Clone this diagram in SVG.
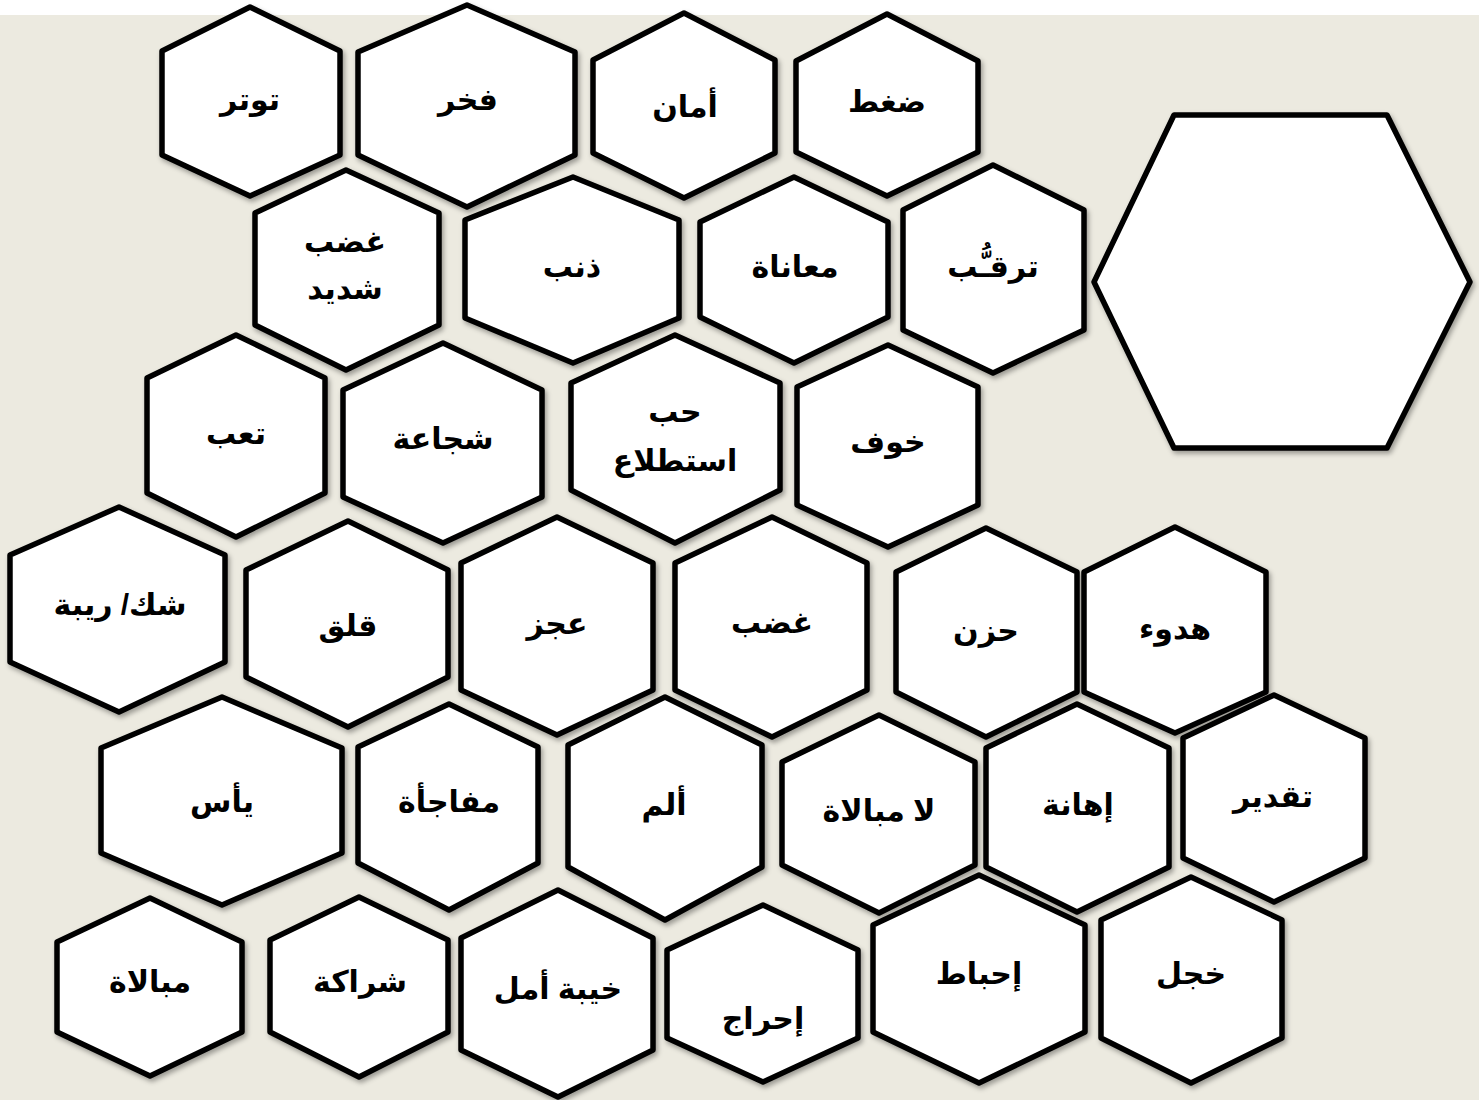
<svg xmlns="http://www.w3.org/2000/svg" width="1479" height="1100" viewBox="0 0 1479 1100">
<defs>
<filter id="sh" x="-10%" y="-10%" width="130%" height="130%">
<feDropShadow dx="2" dy="3" stdDeviation="2.5" flood-color="#000" flood-opacity="0.35"/>
</filter>
<style>
.hx{fill:#fff;stroke:#000;stroke-width:5.5;stroke-linejoin:round;filter:url(#sh)}
.t{font-family:"Liberation Sans","DejaVu Sans",sans-serif;font-weight:bold;font-size:30px;fill:#000;text-anchor:middle}
</style>
</defs>
<rect x="0" y="0" width="1479" height="1100" fill="#fff"/>
<rect x="0" y="15" width="1479" height="1085" fill="#ECEAE0"/>
<g id="connectors"></g>
<g id="n1"><polygon class="hx" points="250,7 340,51 340,155 250,196 162,155 162,51"/><text class="t" x="250" y="110">توتر</text></g>
<g id="n2"><polygon class="hx" points="467,5 575,52 575,155 467,207 358,155 358,52"/><text class="t" x="468" y="110">فخر</text></g>
<g id="n3"><polygon class="hx" points="684,13 775,60 775,153 684,198 593,153 593,60"/><text class="t" x="685" y="117">أمان</text></g>
<g id="n4"><polygon class="hx" points="887,14 978,61 978,152 887,196 796,152 796,61"/><text class="t" x="887" y="112">ضغط</text></g>
<g id="n5"><polygon class="hx" points="1174,115 1387,115 1470,282 1387,448 1174,448 1094,282"/></g>
<g id="n6"><polygon class="hx" points="346,170 439,213 439,325 346,370 255,325 255,213"/><text class="t" x="345" y="252">غضب</text><text class="t" x="345" y="299">شديد</text></g>
<g id="n7"><polygon class="hx" points="573,177 679,220 679,318 573,363 465,318 465,220"/><text class="t" x="572" y="277">ذنب</text></g>
<g id="n8"><polygon class="hx" points="794,177 888,222 888,317 794,363 700,317 700,222"/><text class="t" x="795" y="277">معاناة</text></g>
<g id="n9"><polygon class="hx" points="993,165 1084,210 1084,330 993,373 903,330 903,210"/><text class="t" x="993" y="277">ترقـُّب</text></g>
<g id="n10"><polygon class="hx" points="236,335 325,378 325,493 236,537 147,493 147,378"/><text class="t" x="236" y="444">تعب</text></g>
<g id="n11"><polygon class="hx" points="443,343 542,390 542,497 443,543 343,497 343,390"/><text class="t" x="443" y="449">شجاعة</text></g>
<g id="n12"><polygon class="hx" points="675,335 780,383 780,490 675,543 571,490 571,383"/><text class="t" x="675" y="422">حب</text><text class="t" x="675" y="471">استطلاع</text></g>
<g id="n13"><polygon class="hx" points="888,345 978,387 978,505 888,547 797,505 797,387"/><text class="t" x="888" y="452">خوف</text></g>
<g id="n14"><polygon class="hx" points="119,507 225,555 225,662 119,712 10,662 10,555"/><text class="t" x="120" y="615">شك/ ريبة</text></g>
<g id="n15"><polygon class="hx" points="348,521 448,570 448,677 348,727 246,677 246,570"/><text class="t" x="348" y="636">قلق</text></g>
<g id="n16"><polygon class="hx" points="557,517 653,563 653,690 557,735 461,690 461,563"/><text class="t" x="557" y="634">عجز</text></g>
<g id="n17"><polygon class="hx" points="772,517 867,563 867,690 772,737 675,690 675,563"/><text class="t" x="772" y="633">غضب</text></g>
<g id="n18"><polygon class="hx" points="986,528 1077,572 1077,692 986,737 896,692 896,572"/><text class="t" x="986" y="641">حزن</text></g>
<g id="n19"><polygon class="hx" points="1175,527 1266,572 1266,692 1175,733 1084,692 1084,572"/><text class="t" x="1175" y="639">هدوء</text></g>
<g id="n20"><polygon class="hx" points="222,697 342,748 342,853 222,905 101,853 101,748"/><text class="t" x="222" y="812">يأس</text></g>
<g id="n21"><polygon class="hx" points="449,704 538,747 538,863 449,910 358,863 358,747"/><text class="t" x="449" y="812">مفاجأة</text></g>
<g id="n22"><polygon class="hx" points="665,697 762,745 762,867 665,920 568,867 568,745"/><text class="t" x="664" y="815">ألم</text></g>
<g id="n23"><polygon class="hx" points="879,715 975,762 975,865 879,913 782,865 782,762"/><text class="t" x="879" y="821">لا مبالاة</text></g>
<g id="n24"><polygon class="hx" points="1077,704 1169,748 1169,867 1077,912 986,867 986,748"/><text class="t" x="1078" y="815">إهانة</text></g>
<g id="n25"><polygon class="hx" points="1274,695 1365,738 1365,858 1274,902 1183,858 1183,738"/><text class="t" x="1273" y="807">تقدير</text></g>
<g id="n26"><polygon class="hx" points="150,898 242,942 242,1032 150,1076 57,1032 57,942"/><text class="t" x="150" y="992">مبالاة</text></g>
<g id="n27"><polygon class="hx" points="359,897 448,940 448,1032 359,1077 270,1032 270,940"/><text class="t" x="360" y="992">شراكة</text></g>
<g id="n28"><polygon class="hx" points="558,890 653,938 653,1050 558,1097 461,1050 461,938"/><text class="t" x="558" y="999">خيبة أمل</text></g>
<g id="n29"><polygon class="hx" points="763,905 858,950 858,1038 763,1082 667,1038 667,950"/><text class="t" x="763" y="1029">إحراج</text></g>
<g id="n30"><polygon class="hx" points="979,875 1085,925 1085,1032 979,1083 873,1032 873,925"/><text class="t" x="979" y="984">إحباط</text></g>
<g id="n31"><polygon class="hx" points="1191,877 1282,920 1282,1038 1191,1083 1101,1038 1101,920"/><text class="t" x="1191" y="984">خجل</text></g>
</svg>
